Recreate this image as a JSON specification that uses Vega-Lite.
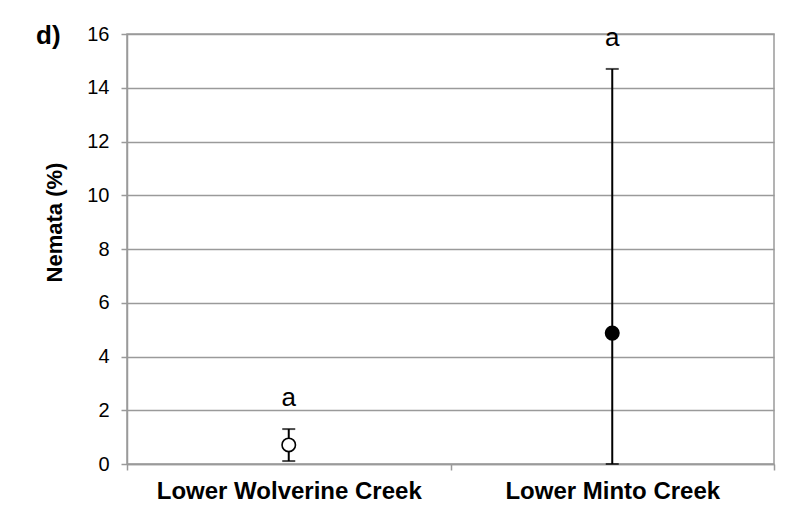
{
  "$schema": "https://vega.github.io/schema/vega-lite/v6.json",
  "width": 647,
  "height": 430,
  "autosize": {"type": "none"},
  "padding": {"left": 127, "top": 34, "right": 21, "bottom": 56},
  "background": "white",
  "title": {
    "text": "d)",
    "anchor": "start",
    "frame": "group",
    "orient": "top",
    "dx": -91,
    "offset": -46,
    "baseline": "alphabetic",
    "fontSize": 26,
    "fontWeight": "bold",
    "font": "Liberation Sans",
    "color": "black"
  },
  "config": {
    "view": {"stroke": "#9a9a9a", "strokeWidth": 1.5},
    "font": "Liberation Sans"
  },
  "data": {
    "values": [
      {"site": "Lower Wolverine Creek", "mean": 0.71, "lo": 0.11, "hi": 1.3, "letter": "a"},
      {"site": "Lower Minto Creek", "mean": 4.87, "lo": 0, "hi": 14.7, "letter": "a"}
    ]
  },
  "encoding": {
    "x": {
      "field": "site",
      "type": "nominal",
      "sort": ["Lower Wolverine Creek", "Lower Minto Creek"],
      "scale": {"paddingInner": 0, "paddingOuter": 0},
      "axis": {
        "title": null,
        "labelAngle": 0,
        "labelLimit": 0,
        "tickBand": "extent",
        "tickSize": 6,
        "tickColor": "#9a9a9a",
        "tickWidth": 1.5,
        "domainColor": "#9a9a9a",
        "domainWidth": 1.5,
        "labelFontSize": 24,
        "labelFontWeight": "bold",
        "labelColor": "black",
        "labelPadding": 9,
        "labelFont": "Liberation Sans"
      }
    }
  },
  "layer": [
    {
      "mark": {"type": "rule", "color": "black", "strokeWidth": 2},
      "encoding": {
        "y": {
          "field": "lo",
          "type": "quantitative",
          "scale": {"domain": [0, 16], "nice": false},
          "axis": {
            "title": "Nemata (%)",
            "titleFontSize": 22,
            "titleFontWeight": "bold",
            "titleColor": "black",
            "titleFont": "Liberation Sans",
            "titlePadding": 20,
            "titleY": 188,
            "values": [0, 2, 4, 6, 8, 10, 12, 14, 16],
            "grid": true,
            "gridColor": "#9a9a9a",
            "gridWidth": 1.5,
            "domainColor": "#9a9a9a",
            "domainWidth": 1.5,
            "tickColor": "#9a9a9a",
            "tickWidth": 1.5,
            "tickSize": 6,
            "labelFontSize": 20,
            "labelColor": "black",
            "labelPadding": 12,
            "labelFont": "Liberation Sans"
          }
        },
        "y2": {"field": "hi"}
      }
    },
    {
      "mark": {"type": "tick", "color": "black", "thickness": 2, "size": 13},
      "encoding": {"y": {"field": "hi", "type": "quantitative"}}
    },
    {
      "mark": {"type": "tick", "color": "black", "thickness": 2, "size": 13},
      "encoding": {"y": {"field": "lo", "type": "quantitative"}}
    },
    {
      "mark": {"type": "point", "shape": "circle", "size": 180, "strokeWidth": 1.6, "stroke": "black", "opacity": 1, "filled": false},
      "encoding": {
        "y": {"field": "mean", "type": "quantitative"},
        "fill": {
          "field": "site",
          "type": "nominal",
          "scale": {"domain": ["Lower Wolverine Creek", "Lower Minto Creek"], "range": ["white", "black"]},
          "legend": null
        }
      }
    },
    {
      "mark": {"type": "text", "fontSize": 26, "font": "Liberation Sans", "color": "black", "baseline": "middle", "dy": -31},
      "encoding": {
        "y": {"field": "hi", "type": "quantitative"},
        "text": {"field": "letter"}
      }
    }
  ]
}
